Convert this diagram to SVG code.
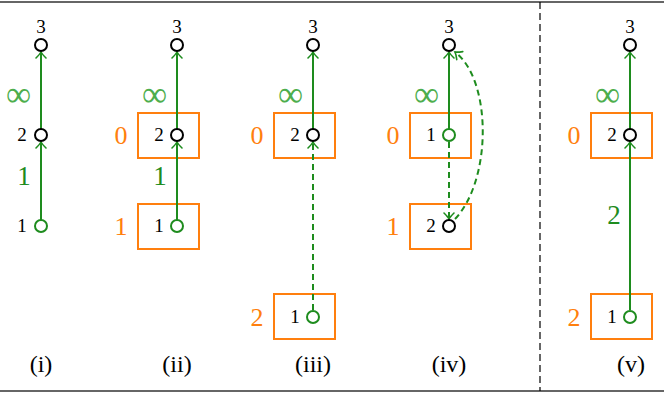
<svg xmlns="http://www.w3.org/2000/svg" width="664" height="394" viewBox="0 0 664 394" font-family="'Liberation Serif', 'DejaVu Serif', serif">
<style>
text{font-family:'Liberation Serif','DejaVu Serif',serif}
.nl{font-size:19px;fill:#000;text-anchor:middle}
.ol{font-size:26px;fill:#FF7F0E;text-anchor:middle}
.gl{font-size:27px;fill:#1E8C1E;text-anchor:middle}
.inf{font-size:36px;fill:#4DAE4D;text-anchor:middle}
.cap{font-size:24px;fill:#000;text-anchor:middle}
.box{fill:none;stroke:#FF7F0E;stroke-width:2}
.e{fill:none;stroke:#1E8C1E;stroke-width:2;marker-end:url(#ah)}
.d{stroke-dasharray:6 4}
.nb{fill:#fff;stroke:#000;stroke-width:2}
.ng{fill:#fff;stroke:#1E8C1E;stroke-width:2}
</style>
<defs>
<marker id="ah" markerUnits="userSpaceOnUse" markerWidth="14" markerHeight="14" refX="0" refY="0" viewBox="-8 -7 10 14" orient="auto" overflow="visible">
<path d="M-6,-5 Q-2,-1 0,0 Q-2,1 -6,5" fill="none" stroke="#1E8C1E" stroke-width="1.6" stroke-linecap="round"/>
</marker>
</defs>
<line x1="0" y1="2" x2="664" y2="2" stroke="#333" stroke-width="1.5"/>
<line x1="0" y1="391" x2="664" y2="391" stroke="#666" stroke-width="2"/>
<line x1="540" y1="2" x2="540" y2="391" stroke="#000" stroke-width="1.2" stroke-dasharray="7 4"/>

<g id="boxes">
<rect class="box" x="138" y="113" width="61" height="45"/>
<rect class="box" x="138" y="204" width="61" height="45"/>
<rect class="box" x="274" y="113" width="61" height="45"/>
<rect class="box" x="274" y="294" width="61" height="45"/>
<rect class="box" x="410" y="113" width="61" height="45"/>
<rect class="box" x="410" y="204" width="61" height="45"/>
<rect class="box" x="591" y="113" width="61" height="45"/>
<rect class="box" x="591" y="294" width="61" height="45"/>
</g>

<g id="connectors">
<path class="e" d="M41,220 L41,142"/>
<path class="e" d="M41,129 L41,52"/>
<path class="e" d="M177,220 L177,142"/>
<path class="e" d="M177,129 L177,52"/>
<path class="e d" d="M313,310 L313,142"/>
<path class="e" d="M313,129 L313,52"/>
<path class="e" d="M449,129 L449,52"/>
<path class="e d" d="M449,142 L449,219"/>
<path class="e d" d="M455,219 C492,180 492,80 455,52"/>
<path class="e" d="M630,310 L630,142"/>
<path class="e" d="M630,129 L630,52"/>
</g>

<g id="labels">
<text class="inf" x="18.5" y="106" textLength="25" lengthAdjust="spacingAndGlyphs">∞</text>
<text class="gl" x="24" y="185">1</text>
<text class="inf" x="154.5" y="106" textLength="25" lengthAdjust="spacingAndGlyphs">∞</text>
<text class="gl" x="160" y="185">1</text>
<text class="inf" x="290.5" y="106" textLength="25" lengthAdjust="spacingAndGlyphs">∞</text>
<text class="inf" x="426.5" y="106" textLength="25" lengthAdjust="spacingAndGlyphs">∞</text>
<text class="inf" x="607.5" y="106" textLength="25" lengthAdjust="spacingAndGlyphs">∞</text>
<text class="gl" x="614" y="224">2</text>
<text class="ol" x="121" y="144">0</text>
<text class="ol" x="121" y="235">1</text>
<text class="ol" x="257" y="144">0</text>
<text class="ol" x="257" y="326">2</text>
<text class="ol" x="393" y="144">0</text>
<text class="ol" x="393" y="235">1</text>
<text class="ol" x="574" y="144">0</text>
<text class="ol" x="574" y="326">2</text>
<text class="cap" x="41" y="372">(i)</text>
<text class="cap" x="177" y="372">(ii)</text>
<text class="cap" x="313" y="372">(iii)</text>
<text class="cap" x="449" y="372">(iv)</text>
<text class="cap" x="631" y="372">(v)</text>
</g>

<g id="n-i-3"><circle class="nb" cx="41" cy="45" r="6"/><text class="nl" x="41" y="33">3</text></g>
<g id="n-i-2"><circle class="nb" cx="41" cy="135" r="6"/><text class="nl" x="22" y="141">2</text></g>
<g id="n-i-1"><circle class="ng" cx="41" cy="226" r="6"/><text class="nl" x="22" y="232">1</text></g>

<g id="n-ii-3"><circle class="nb" cx="177" cy="45" r="6"/><text class="nl" x="177" y="33">3</text></g>
<g id="n-ii-2"><circle class="nb" cx="177" cy="135" r="6"/><text class="nl" x="159" y="141">2</text></g>
<g id="n-ii-1"><circle class="ng" cx="177" cy="226" r="6"/><text class="nl" x="159" y="232">1</text></g>

<g id="n-iii-3"><circle class="nb" cx="313" cy="45" r="6"/><text class="nl" x="313" y="33">3</text></g>
<g id="n-iii-2"><circle class="nb" cx="313" cy="135" r="6"/><text class="nl" x="295" y="141">2</text></g>
<g id="n-iii-1"><circle class="ng" cx="313" cy="317" r="6"/><text class="nl" x="295" y="323">1</text></g>

<g id="n-iv-3"><circle class="nb" cx="449" cy="45" r="6"/><text class="nl" x="449" y="33">3</text></g>
<g id="n-iv-1"><circle class="ng" cx="449" cy="135" r="6"/><text class="nl" x="431" y="141">1</text></g>
<g id="n-iv-2"><circle class="nb" cx="449" cy="226" r="6"/><text class="nl" x="431" y="232">2</text></g>

<g id="n-v-3"><circle class="nb" cx="630" cy="45" r="6"/><text class="nl" x="630" y="33">3</text></g>
<g id="n-v-2"><circle class="nb" cx="630" cy="135" r="6"/><text class="nl" x="612" y="141">2</text></g>
<g id="n-v-1"><circle class="ng" cx="630" cy="317" r="6"/><text class="nl" x="612" y="323">1</text></g>
</svg>
